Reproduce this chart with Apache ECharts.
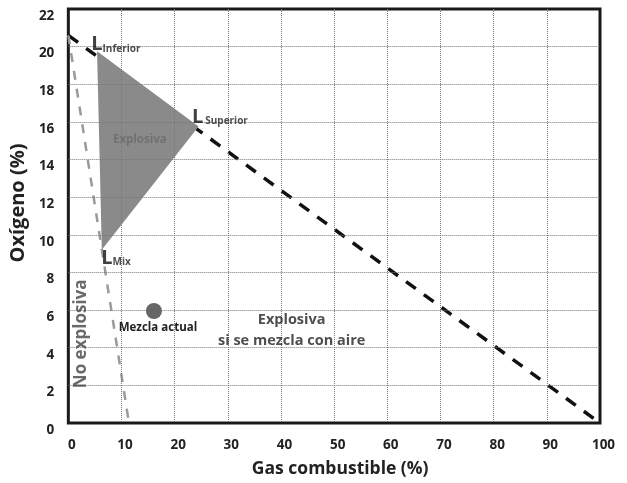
<!DOCTYPE html>
<html><head><meta charset="utf-8">
<script src="https://cdn.jsdelivr.net/npm/echarts@6/dist/echarts.min.js"></script>
<style>html,body{margin:0;padding:0;background:#fff}#c{width:627px;height:483px}</style>
</head><body><div id="c"></div>
<script>
// ---- data ----
const xTickValues = [0, 10, 20, 30, 40, 50, 60, 70, 80, 90, 100];
const yTickValues = [0, 2, 4, 6, 8, 10, 12, 14, 16, 18, 20, 22];
const xAxisName = 'Gas combustible (%)';
const yAxisName = 'Oxígeno (%)';
// dilution-with-air line (black dashed)
const airLine = [[0, 20.6], [100, 0]];
// boundary of the non-explosive zone (gray dashed)
const noExplosiveLine = [[0, 20.6], [11.4, 0]];
// explosive triangle vertices: L Inferior, L Superior, L Mix
const explosiveTriangle = [[5.4, 19.75], [24.5, 15.75], [6.3, 9.2]];
const vertexNames = ['Inferior', 'Superior', 'Mix'];
// current mixture point
const currentMixture = [[16.1, 5.95]];
const currentMixtureName = 'Mezcla actual';
const regionTexts = ['Explosiva', 'Explosiva\nsi se mezcla con aire', 'No explosiva'];

const FONT = 'Open Sans';
const TXT = '#222';
const chart = echarts.init(document.getElementById('c'), null, {renderer: 'canvas'});

function lLabel(i, subPadLeft) {
  return {
    show: true,
    formatter: '{L|L}{s|' + vertexNames[i] + '}',
    align: 'left', verticalAlign: 'middle',
    rich: {
      L: {fontFamily: FONT, fontSize: 20, fontWeight: 'bold', color: '#111', verticalAlign: 'bottom'},
      s: {fontFamily: FONT, fontSize: 10, fontWeight: 'bold', color: '#222', verticalAlign: 'bottom', padding: [0, 0, 1, subPadLeft]}
    }
  };
}

const gridLineStyle = {color: '#777', width: 1, type: [1, 1]};

const option = {
  animation: false,
  backgroundColor: '#fff',
  grid: {left: 61, right: 27, top: 9, bottom: 58, show: true, borderColor: '#1a1a1a', borderWidth: 3, backgroundColor: 'transparent'},
  xAxis: {
    type: 'value', min: xTickValues[0], max: xTickValues[xTickValues.length - 1], interval: xTickValues[1] - xTickValues[0],
    z: 3,
    name: xAxisName, nameLocation: 'middle', nameGap: 37,
    nameTextStyle: {fontFamily: FONT, fontSize: 17.5, fontWeight: 'bold', color: TXT, padding: [0, 0, 0, 12]},
    axisLine: {show: false}, axisTick: {show: false},
    axisLabel: {fontFamily: FONT, fontSize: 13.5, fontWeight: 'bold', color: TXT, margin: 15, padding: [0, 0, 0, 7]},
    splitLine: {show: true, showMinLine: false, showMaxLine: false, lineStyle: gridLineStyle}
  },
  yAxis: {
    type: 'value', min: yTickValues[0], max: yTickValues[yTickValues.length - 1], interval: yTickValues[1] - yTickValues[0],
    z: 3,
    name: yAxisName, nameLocation: 'middle', nameGap: 31,
    nameTextStyle: {fontFamily: FONT, fontSize: 20, fontWeight: 'bold', color: TXT, padding: [0, 0, 0, 26]},
    axisLine: {show: false}, axisTick: {show: false},
    axisLabel: {fontFamily: FONT, fontSize: 13.5, fontWeight: 'bold', color: TXT, margin: 14, verticalAlign: 'top'},
    splitLine: {show: true, showMinLine: false, showMaxLine: false, lineStyle: gridLineStyle}
  },
  series: [
    {
      type: 'line', data: airLine, showSymbol: false, z: 1, silent: true,
      lineStyle: {color: '#111', width: 3.5, type: [12, 10]}
    },
    {
      type: 'line', data: noExplosiveLine, showSymbol: false, z: 1, silent: true,
      lineStyle: {color: '#9a9a9a', width: 2.5, type: [9, 9]}
    },
    {
      type: 'custom', z: 2, data: explosiveTriangle, encode: {x: 0, y: 1}, silent: true,
      renderItem: function (params, api) {
        if (params.dataIndex !== 0) return;
        const pts = explosiveTriangle.map(function (p) { return api.coord(p); });
        return {type: 'polygon', shape: {points: pts}, style: {fill: '#8a8a8a'}};
      }
    },
    {
      type: 'scatter', z: 5, data: currentMixture, symbolSize: 16, silent: true,
      itemStyle: {color: '#666', opacity: 1},
      label: {show: true, position: 'bottom', distance: 3, offset: [4, 0], formatter: currentMixtureName,
        fontFamily: FONT, fontSize: 11.5, fontWeight: 'bold', color: TXT}
    },
    {
      // vertex labels L Inferior / L Superior / L Mix
      type: 'scatter', z: 5, symbolSize: 1, silent: true,
      itemStyle: {color: 'rgba(0,0,0,0)'},
      data: [
        {value: [4.3, 20.1], label: lLabel(0, 0)},
        {value: [23.25, 16.26], label: lLabel(1, 2)},
        {value: [6.2, 8.74], label: lLabel(2, 0)}
      ],
      label: {show: true, position: 'inside'}
    },
    {
      // region texts
      type: 'scatter', z: 5, symbolSize: 1, silent: true,
      itemStyle: {color: 'rgba(0,0,0,0)'},
      label: {show: true, position: 'inside'},
      data: [
        {value: [13.45, 15.05], label: {show: true, formatter: regionTexts[0], fontFamily: FONT, fontSize: 11.5, fontWeight: 'bold', color: '#6a6a6a'}},
        {value: [42.0, 4.92], label: {show: true, formatter: regionTexts[1], fontFamily: FONT, fontSize: 14.5, fontWeight: 'bold', color: TXT, lineHeight: 21, align: 'center'}},
        {value: [2.4, 4.74], label: {show: true, formatter: regionTexts[2], rotate: 90, fontFamily: FONT, fontSize: 17, fontWeight: 'bold', color: '#444'}}
      ]
    }
  ]
};
chart.setOption(option);
</script>
</body></html>
